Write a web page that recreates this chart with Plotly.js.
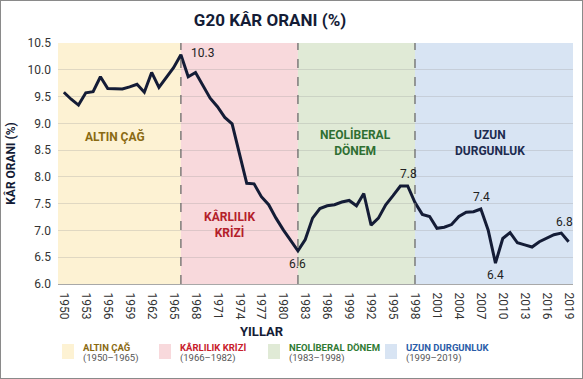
<!DOCTYPE html>
<html>
<head>
<meta charset="utf-8">
<script src="https://cdn.plot.ly/plotly-3.0.1.min.js"></script>
<style>
  html, body { margin: 0; padding: 0; background: #fff; }
  #wrap { position: relative; width: 583px; height: 379px; }
  #chart { position: absolute; left: 0; top: 0; width: 583px; height: 379px; }
  #frame { position: absolute; left: 0; top: 0; width: 583px; height: 379px; box-sizing: border-box; border: 1px solid #8a8a8a; pointer-events: none; }
</style>
</head>
<body>
<div id="wrap"><div id="chart"></div><div id="frame"></div></div>
<script>
// ---------- DATA ----------
const years = [1950,1951,1952,1953,1954,1955,1956,1957,1958,1959,1960,1961,1962,1963,1964,1965,
  1966,1967,1968,1969,1970,1971,1972,1973,1974,1975,1976,1977,1978,1979,1980,1981,1982,
  1983,1984,1985,1986,1987,1988,1989,1990,1991,1992,1993,1994,1995,1996,1997,1998,
  1999,2000,2001,2002,2003,2004,2005,2006,2007,2008,2009,2010,2011,2012,2013,2014,2015,2016,2017,2018,2019];
const profitRate = [9.58,9.45,9.34,9.57,9.59,9.87,9.65,9.64,9.64,9.68,9.73,9.58,9.95,9.67,9.85,10.04,
  10.28,9.87,9.95,9.72,9.47,9.31,9.11,8.99,8.44,7.88,7.87,7.63,7.48,7.23,7.01,6.82,6.62,
  6.83,7.23,7.41,7.46,7.48,7.53,7.56,7.46,7.69,7.10,7.23,7.48,7.65,7.83,7.83,7.52,
  7.30,7.26,7.04,7.06,7.11,7.26,7.34,7.35,7.40,7.01,6.39,6.85,6.96,6.77,6.73,6.69,6.79,6.85,6.92,6.95,6.79];

const tickYears  = [1950,1953,1956,1959,1962,1965,1968,1971,1974,1977,1980,1983,1986,1989,1992,1995,1998,2001,2004,2007,2010,2013,2016,2019];
const tickLabels = ['1950','1953','1956','1959','1962','1965','1968','1971','1974','1977','1980','1983','1986','1999','1992','1995','1998','2001','2004','2007','2010','2013','2016','2019'];

const periodNames   = ['ALTIN ÇAĞ', 'KÂRLILIK KRİZİ', 'NEOLİBERAL DÖNEM', 'UZUN DURGUNLUK'];
const periodLabels  = ['ALTIN ÇAĞ', 'KÂRLILIK<br>KRİZİ', 'NEOLİBERAL<br>DÖNEM', 'UZUN<br>DURGUNLUK'];
const periodRanges  = ['(1950–1965)', '(1966–1982)', '(1983–1998)', '(1999–2019)'];
const periodBounds  = [1966, 1982, 1998];

const calloutYears  = [1966, 1982, 1997, 2007, 2009, 2018];
const calloutText   = ['10.3', '6.6', '7.8', '7.4', '6.4', '6.8'];
const calloutValues = [10.28, 6.62, 7.83, 7.40, 6.39, 6.95];

// ---------- STYLE ----------
const xRange = [1949.2, 2019.6];
const yRange = [6.0, 10.5];
const bgColors   = ['#fdf2d3', '#f8d9dc', '#e0ead6', '#d8e4f3'];
const textColors = ['#8a6a12', '#b3202a', '#2f6f32', '#1d2b4f'];
const legendTextColors = ['#8a6a12', '#c8202c', '#2f7a34', '#2a5ca8'];
const navy = '#141c36';
const FONT = 'Roboto, "Open Sans", sans-serif';

// layout geometry helpers (pixel -> paper) for legend area
const M = {l: 58, r: 10, t: 43, b: 95};
const W = 583, H = 379;
const pw = W - M.l - M.r, ph = H - M.t - M.b;
const px = x => (x - M.l) / pw;
const py = y => (H - M.b - y) / ph;

const shapes = [];
const edges = [xRange[0]].concat(periodBounds, [xRange[1]]);
for (let i = 0; i < 4; i++) {
  shapes.push({type: 'rect', xref: 'x', yref: 'paper', x0: edges[i], x1: edges[i + 1], y0: 0, y1: 1,
    fillcolor: bgColors[i], line: {width: 0}, layer: 'below'});
}
periodBounds.forEach(b => shapes.push({type: 'line', xref: 'x', yref: 'paper', x0: b, x1: b, y0: 0, y1: 1,
  line: {color: '#6b6b6b', width: 1.3, dash: 'dash'}, layer: 'above'}));

const annotations = [];
// period names in plot
const periodPos = [[1957, 8.76], [1972.7, 7.12], [1989.8, 8.65], [2008.3, 8.63]];
for (let i = 0; i < 4; i++) {
  annotations.push({x: periodPos[i][0], y: periodPos[i][1], xref: 'x', yref: 'y', text: '<b>' + periodLabels[i] + '</b>',
    showarrow: false, font: {family: FONT, size: 12, color: textColors[i]}, align: 'center'});
}
// callouts
const calloutCfg = [
  {xanchor: 'left', yanchor: 'middle', xshift: 8, yshift: 2},
  {xanchor: 'center', yanchor: 'top', xshift: 0, yshift: -4},
  {xanchor: 'center', yanchor: 'bottom', xshift: 1, yshift: 3},
  {xanchor: 'center', yanchor: 'bottom', xshift: 1, yshift: 3},
  {xanchor: 'center', yanchor: 'top', xshift: 0, yshift: -3},
  {xanchor: 'center', yanchor: 'bottom', xshift: 3, yshift: 2}
];
for (let i = 0; i < calloutYears.length; i++) {
  annotations.push(Object.assign({x: calloutYears[i], y: calloutValues[i], xref: 'x', yref: 'y', text: calloutText[i],
    showarrow: false, font: {family: FONT, size: 12, color: '#222'}}, calloutCfg[i]));
}
// x axis title
annotations.push({x: px(262), y: py(331), xref: 'paper', yref: 'paper', text: '<b>YILLAR</b>', showarrow: false,
  font: {family: FONT, size: 13, color: navy}, xanchor: 'center', yanchor: 'middle'});
// legend
const legSquareX = [62, 159, 268, 385];
for (let i = 0; i < 4; i++) {
  shapes.push({type: 'rect', xref: 'paper', yref: 'paper', x0: px(legSquareX[i]), x1: px(legSquareX[i] + 12),
    y0: py(359), y1: py(344), fillcolor: bgColors[i], line: {width: 0}});
  annotations.push({x: px(legSquareX[i] + 19), y: py(347), xref: 'paper', yref: 'paper', text: '<b>' + periodNames[i] + '</b>',
    showarrow: false, xanchor: 'left', yanchor: 'middle', font: {family: FONT, size: 9.5, color: legendTextColors[i]}});
  annotations.push({x: px(legSquareX[i] + 19), y: py(358), xref: 'paper', yref: 'paper', text: periodRanges[i],
    showarrow: false, xanchor: 'left', yanchor: 'middle', font: {family: FONT, size: 9.5, color: '#555'}});
}

const trace = {x: years, y: profitRate, type: 'scatter', mode: 'lines',
  line: {color: navy, width: 3}, hoverinfo: 'x+y', showlegend: false};

const layout = {
  width: W, height: H,
  margin: M,
  paper_bgcolor: '#fff', plot_bgcolor: '#fff',
  font: {family: FONT, color: '#333'},
  title: {text: '<b>G20 KÂR ORANI (%)</b>', x: px(270), xref: 'paper', xanchor: 'center', y: 1 - 20 / H, yanchor: 'middle',
    font: {family: FONT, size: 17, color: navy}},
  xaxis: {range: xRange, tickvals: tickYears, ticktext: tickLabels, tickangle: 90, showgrid: false, zeroline: false,
    showline: true, linecolor: '#a8a8a8', linewidth: 1, ticks: '', ticklabelstandoff: 5,
    tickfont: {family: FONT, size: 12, color: '#333'}, fixedrange: true},
  yaxis: {range: yRange, dtick: 0.5, tick0: 6, tickformat: '.1f', showgrid: true, gridcolor: 'rgba(150,150,150,0.28)', gridwidth: 1,
    zeroline: false, showline: false, ticks: '', ticklabelstandoff: 6,
    tickfont: {family: FONT, size: 12, color: '#333'},
    title: {text: '<b>KÂR ORANI (%)</b>', font: {family: FONT, size: 12, color: navy}, standoff: 9}, fixedrange: true},
  shapes: shapes,
  annotations: annotations,
  showlegend: false
};

Plotly.newPlot('chart', [trace], layout, {displayModeBar: false, staticPlot: true});
</script>
</body>
</html>
